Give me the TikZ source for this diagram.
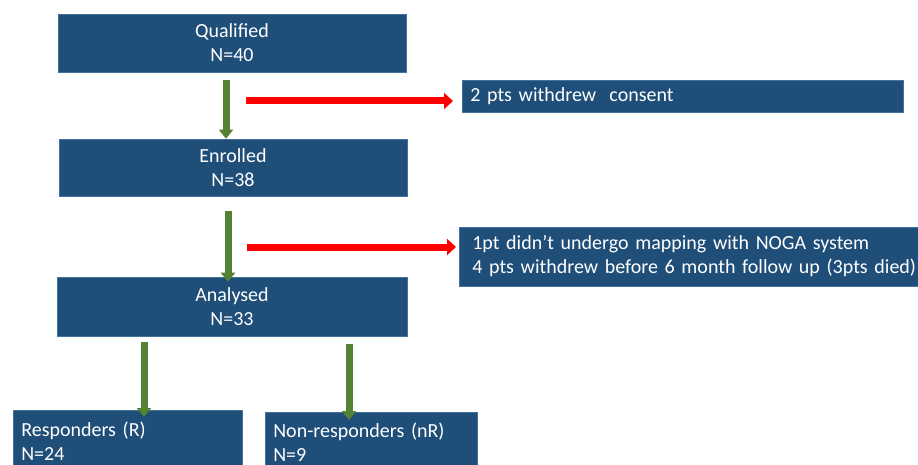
\documentclass[tikz,border=0pt]{standalone}
\usepackage{fontspec}
\setmainfont{Carlito}
\usetikzlibrary{arrows.meta}
\definecolor{boxblue}{HTML}{1F4E79}
\definecolor{boxedge}{HTML}{41719C}
\definecolor{agreen}{HTML}{548235}
\definecolor{ared}{HTML}{FF0000}
\tikzset{
  bluebox/.style={draw=boxedge, line width=0.6pt, fill=boxblue, text=white, inner sep=0pt,
    font=\fontsize{20}{24}\selectfont},
  centrebox/.style={bluebox, align=center},
  leftbox/.style={bluebox, align=left, text width=#1, inner xsep=8pt},
  garrow/.style={draw=agreen, line width=7pt, -{Triangle[width=14pt,length=9pt]}},
  rarrow/.style={draw=ared, line width=7pt, -{Triangle[width=16pt,length=9pt]}},
}
\begin{document}
\begin{tikzpicture}[x=1pt,y=-1pt]
\useasboundingbox (0,0) rectangle (918,465);
\clip (0,0) rectangle (918,465);
% main column
\node[centrebox, minimum width=348pt, minimum height=58pt] (q) at (232,43) {Qualified\\N=40};
\node[centrebox, minimum width=348pt, minimum height=57pt] (e) at (233,167.5) {Enrolled\\N=38};
\node[centrebox, minimum width=350pt, minimum height=59pt] (a) at (232,306.5) {Analysed\\N=33};
% side boxes
\node[leftbox=425pt, minimum height=32pt, anchor=west] (w1) at (462,96) {2 pts withdrew\ \ consent};
\node[leftbox=444pt, minimum height=59pt, anchor=west, inner xsep=13pt] (w2) at (459,256.5)
  {1pt didn’t undergo mapping with NOGA system\\4 pts withdrew before 6 month follow up (3pts died)};
% outcome boxes
\node[leftbox=213pt, minimum height=62pt, anchor=north west] (r) at (13,410) {Responders (R)\\N=24};
\node[leftbox=196pt, minimum height=60pt, anchor=north west] (nr) at (265,412) {Non-responders (nR)\\N=9};
% green arrows
\draw[garrow] ([xshift=-6pt,yshift=-8pt]q.south) -- ([xshift=-6pt]q.south |- e.north);
\draw[garrow] ([xshift=-5pt,yshift=-15pt]e.south) -- ([xshift=-5pt,yshift=-5pt]e.south |- a.north);
\coordinate (ls) at (144,342);
\coordinate (rs) at (349,344);
\draw[garrow] (ls) -- ([yshift=-7pt]ls |- r.north);
\draw[garrow] (rs) -- ([yshift=-8pt]rs |- nr.north);
% red arrows
\coordinate (r1) at (246,101);
\coordinate (r2) at (247,247);
\draw[rarrow] (r1) -- ([xshift=-9pt]r1 -| w1.west);
\draw[rarrow] (r2) -- ([xshift=-3pt]r2 -| w2.west);
\end{tikzpicture}
\end{document}
